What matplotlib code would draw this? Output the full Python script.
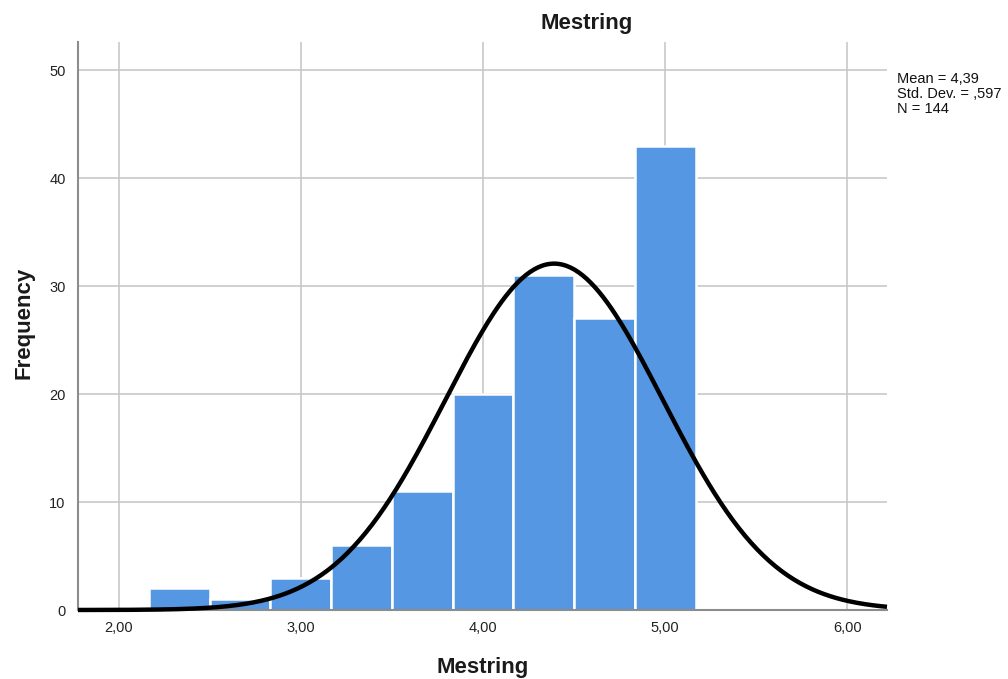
import numpy as np
import matplotlib
matplotlib.use("Agg")
import matplotlib.pyplot as plt

plt.rcParams['font.family'] = ['Liberation Sans', 'DejaVu Sans']

# histogram of Mestring scores (bin width 1/3)
bin_start = 2.1667
bin_width = 1 / 3
counts = [2, 1, 3, 6, 11, 20, 31, 27, 43]
mean = 4.39
sd = 0.597
n = 144

xticks = [2, 3, 4, 5, 6]
xtick_labels = ["2,00", "3,00", "4,00", "5,00", "6,00"]
yticks = [0, 10, 20, 30, 40, 50]

fig = plt.figure(figsize=(10.08, 6.79), dpi=100)
ax = fig.add_axes([78 / 1008, 1 - 610 / 679, (887 - 78) / 1008, (610 - 42) / 679])

lefts = bin_start + bin_width * np.arange(len(counts))
ax.bar(lefts, counts, width=bin_width, align='edge', color='#5597e3',
       edgecolor='white', linewidth=1.8, zorder=2)

# fitted normal curve scaled to counts
xs = np.linspace(1.777, 6.217, 400)
pdf = np.exp(-0.5 * ((xs - mean) / sd) ** 2) / (sd * np.sqrt(2 * np.pi))
ax.plot(xs, n * bin_width * pdf, color='black', lw=3.2, zorder=3,
        solid_capstyle='butt', clip_on=False)

ax.set_xlim(1.777, 6.217)
ax.set_ylim(0, 52.6)
ax.set_xticks(xticks)
ax.set_xticklabels(xtick_labels)
ax.set_yticks(yticks)
ax.grid(True, color='#c8c8c8', lw=1.2, zorder=0)
ax.set_axisbelow(True)
ax.tick_params(length=0, labelsize=10.5, colors='#222222', pad=8)
ax.tick_params(axis='y', pad=9)
for s in ['top', 'right']:
    ax.spines[s].set_visible(False)
for s in ['left', 'bottom']:
    ax.spines[s].set_color('#8c8c8c')
    ax.spines[s].set_linewidth(1.5)

fig.text(587 / 1008, 1 - 23 / 679, "Mestring", ha='center', va='center',
         fontsize=16, fontweight='bold', color='#1a1a1a')
fig.text(483 / 1008, 1 - 667 / 679, "Mestring", ha='center', va='center',
         fontsize=16, fontweight='bold', color='#1a1a1a')
fig.text(24 / 1008, 1 - 323 / 679, "Frequency", ha='center', va='center',
         rotation=90, fontsize=16, fontweight='bold', color='#1a1a1a')
fig.text(897 / 1008, 1 - 72 / 679,
         "Mean = 4,39\nStd. Dev. = ,597\nN = 144",
         ha='left', va='top', fontsize=10.5, linespacing=1.1, color='#111111')

fig.savefig("out.png", dpi=100, facecolor='white')
